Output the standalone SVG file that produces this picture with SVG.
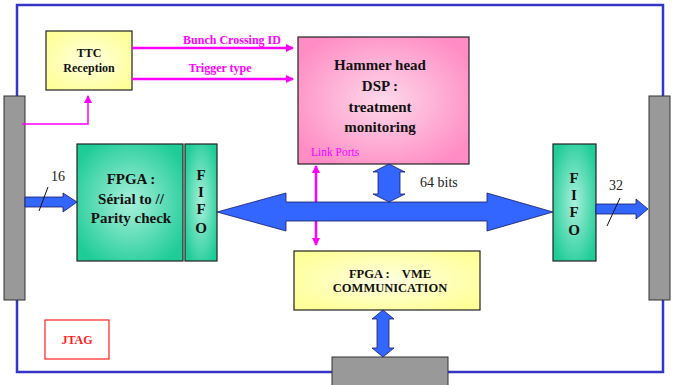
<svg xmlns="http://www.w3.org/2000/svg" width="677" height="385" viewBox="0 0 677 385" font-family="'Liberation Serif', 'Times New Roman', serif">
<defs>
<radialGradient id="gPink" cx="0.5" cy="0.5" r="0.6"><stop offset="0" stop-color="#fdd8ea"/><stop offset="1" stop-color="#ff8cc4"/></radialGradient>
<radialGradient id="gGreen" cx="0.5" cy="0.5" r="0.6"><stop offset="0" stop-color="#a8f0da"/><stop offset="1" stop-color="#1fcc98"/></radialGradient>
<radialGradient id="gYellow" cx="0.5" cy="0.5" r="0.6"><stop offset="0" stop-color="#ffffe0"/><stop offset="1" stop-color="#ffff99"/></radialGradient>
<marker id="mg" markerWidth="8" markerHeight="8" refX="7" refY="4" orient="auto" markerUnits="userSpaceOnUse"><path d="M0,0 L8,4 L0,8 z" fill="#ff00ff"/></marker>
<marker id="mgs" markerWidth="8" markerHeight="8" refX="1" refY="4" orient="auto" markerUnits="userSpaceOnUse"><path d="M8,0 L0,4 L8,8 z" fill="#ff00ff"/></marker>
<style>
.frame{fill:none;stroke:#3535c8;stroke-width:2.5}
.gray{fill:#999999;stroke:#333;stroke-width:1}
.blue{fill:#3366ff;stroke:#1a1a66;stroke-width:0.8}
.mag{stroke:#ff00ff;stroke-width:2.5;fill:none}
.mag1{stroke:#ff00ff;stroke-width:1.5;fill:none}
.box{stroke:#222;stroke-width:1.2}
text{font-family:"Liberation Serif","Times New Roman",serif}
.t{font-weight:bold;fill:#111;text-anchor:middle}
.n{fill:#222}
.mt{font-weight:bold;fill:#ff00ff;font-size:12px;text-anchor:middle}
</style>
</defs>
<rect width="677" height="385" fill="#ffffff"/>
<path class="frame" d="M17,96 V5 H663 V96 M17,300 V372 H332 M448,372 H663 V300"/>
<g id="leftBus"><rect class="gray" x="4" y="96" width="21" height="204"/></g>
<g id="rightBus"><rect class="gray" x="649" y="96" width="21" height="204"/></g>
<g id="bottomBus"><rect class="gray" x="332" y="357" width="116" height="30"/></g>
<g id="ttc"><rect class="box" x="46" y="31" width="86" height="59" fill="url(#gYellow)"/>
<text class="t" x="89" y="57" font-size="12">TTC</text><text class="t" x="89" y="72" font-size="12">Reception</text></g>
<g id="dsp"><rect class="box" x="298" y="37" width="171" height="127" fill="url(#gPink)"/>
<text class="t" x="380" y="70" font-size="15">Hammer head</text>
<text class="t" x="380" y="91" font-size="15">DSP :</text>
<text class="t" x="380" y="112" font-size="15">treatment</text>
<text class="t" x="380" y="132" font-size="15">monitoring</text>
<text x="311" y="156" font-size="11.5" fill="#ff00ff">Link Ports</text></g>
<g id="fpgaSerial"><rect class="box" x="77" y="144" width="106" height="117" fill="url(#gGreen)"/>
<text class="t" x="131" y="184" font-size="15">FPGA :</text>
<text class="t" x="131" y="204" font-size="15">Sérial to //</text>
<text class="t" x="131" y="223" font-size="15">Parity check</text></g>
<g id="fifoLeft"><rect class="box" x="185" y="144" width="32" height="117" fill="url(#gGreen)"/>
<text class="t" x="201" y="180" font-size="15">F</text><text class="t" x="201" y="197" font-size="15">I</text><text class="t" x="201" y="214" font-size="15">F</text><text class="t" x="201" y="233" font-size="15">O</text></g>
<g id="fifoRight"><rect class="box" x="553" y="144" width="43" height="117" fill="url(#gGreen)"/>
<text class="t" x="574" y="183" font-size="15">F</text><text class="t" x="574" y="200" font-size="15">I</text><text class="t" x="574" y="217" font-size="15">F</text><text class="t" x="574" y="235" font-size="15">O</text></g>
<g id="vme"><rect class="box" x="294" y="251" width="186" height="59" fill="url(#gYellow)"/>
<text class="t" x="390" y="278" font-size="12.5" xml:space="preserve">FPGA :    VME</text>
<text class="t" x="390" y="292" font-size="12.5">COMMUNICATION</text></g>
<g id="jtag"><rect x="45" y="320" width="64" height="39" fill="#fff" stroke="#ff2020" stroke-width="1.2"/>
<text class="t" x="77" y="344" font-size="12" style="fill:#ff2020">JTAG</text></g>
<g id="connectors">
<line class="mag" x1="132" y1="48" x2="293" y2="48" marker-end="url(#mg)"/>
<line class="mag" x1="132" y1="79" x2="293" y2="79" marker-end="url(#mg)"/>
<text class="mt" x="232" y="44">Bunch Crossing ID</text>
<text class="mt" x="220" y="72">Trigger type</text>
<polyline class="mag1" points="22,124 88,124 88,96" marker-end="url(#mg)"/>
<line class="mag" x1="316" y1="166" x2="316" y2="245" marker-start="url(#mgs)" marker-end="url(#mg)"/>
<path class="blue" d="M25,197 H63 V193 L77,202 L63,212 V207 H25 Z"/>
<line x1="48" y1="187" x2="39" y2="211" stroke="#111" stroke-width="1"/>
<text class="n" x="51" y="181" font-size="14">16</text>
<path class="blue" d="M217,212 L286,193 V202 H487 V193 L553,212 L487,231 V221 H286 V231 Z"/>
<path class="blue" d="M389,164 L405,172 H400 V194 H405 L389,202 L373,194 H378 V172 H373 Z"/>
<text class="n" x="420" y="187" font-size="14">64 bits</text>
<path class="blue" d="M596,204 H636 V199 L648,209 L636,219 V214 H596 Z"/>
<line x1="620" y1="198" x2="607" y2="226" stroke="#111" stroke-width="1"/>
<text class="n" x="609" y="190" font-size="14">32</text>
<path class="blue" d="M383,310 L394,319 H389 V348 H394 L383,357 L372,348 H377 V319 H372 Z"/>
</g>
</svg>
